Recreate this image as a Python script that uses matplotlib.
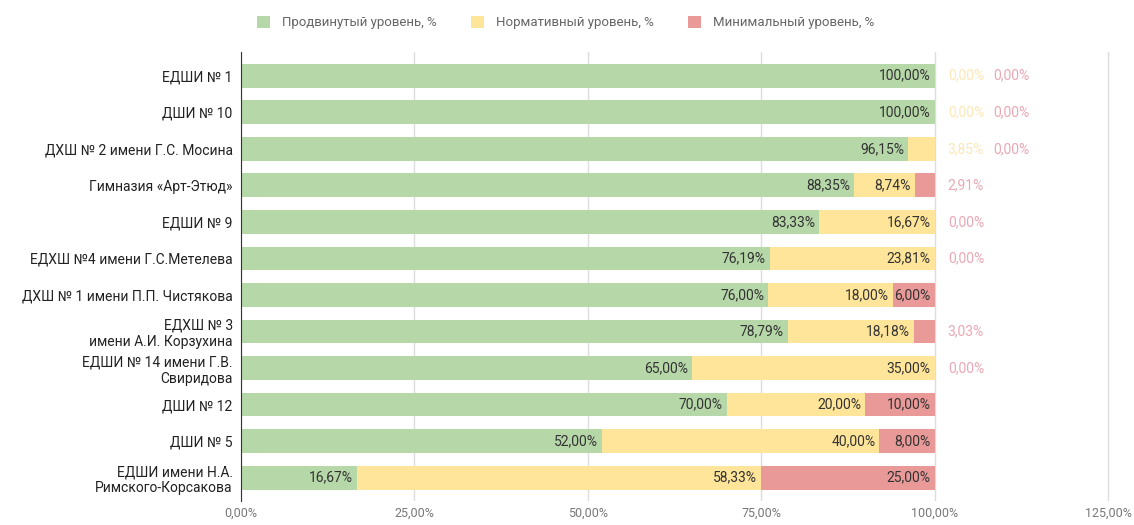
import matplotlib.pyplot as plt
from matplotlib.patches import Patch

plt.rcParams['font.family'] = ['Roboto', 'DejaVu Sans']

schools = ["ЕДШИ № 1", "ДШИ № 10", "ДХШ № 2 имени Г.С. Мосина", "Гимназия «Арт-Этюд»",
           "ЕДШИ № 9", "ЕДХШ №4 имени Г.С.Метелева", "ДХШ № 1 имени П.П. Чистякова",
           "ЕДХШ № 3\nимени А.И. Корзухина", "ЕДШИ № 14 имени Г.В.\nСвиридова",
           "ДШИ № 12", "ДШИ № 5", "ЕДШИ имени Н.А.\nРимского-Корсакова"]
advanced = [100, 100, 96.15, 88.35, 83.33, 76.19, 76.00, 78.79, 65.00, 70.00, 52.00, 16.67]
normative = [0, 0, 3.85, 8.74, 16.67, 23.81, 18.00, 18.18, 35.00, 20.00, 40.00, 58.33]
minimal = [0, 0, 0, 2.91, 0, 0, 6.00, 3.03, 0, 10.00, 8.00, 25.00]
series_names = ["Продвинутый уровень, %", "Нормативный уровень, %", "Минимальный уровень, %"]
xticks = [0, 25, 50, 75, 100, 125]

colors = ["#b6d7a8", "#ffe599", "#ea9999"]
faded = ["#cfe3c5", "#fce8b8", "#eaa8b4"]

def fmt(v):
    return f"{v:.2f}%".replace(".", ",")

fig = plt.figure(figsize=(11.34, 5.25), dpi=100)
ax = fig.add_axes([0.2125, 0.045, 0.777, 0.856])

y = list(range(len(schools)))
left = [0] * len(schools)
outside_count = [0] * len(schools)
for k, vals in enumerate([advanced, normative, minimal]):
    ax.barh(y, vals, left=left, height=0.65, color=colors[k], zorder=2)
    for i, v in enumerate(vals):
        end = left[i] + v
        if v >= 5.5:
            ax.annotate(fmt(v), (end, i), xytext=(-4, 0), textcoords="offset pixels",
                        ha="right", va="center", fontsize=10, color="#333333", zorder=3)
    left = [a + b for a, b in zip(left, vals)]

# small values go outside the bar
for k, vals in enumerate([advanced, normative, minimal]):
    for i, v in enumerate(vals):
        if v < 5.5 and (k > 0):
            if k == 1 and v == 0 and minimal[i] > 0:
                continue
            if k == 1 and v == 0 and advanced[i] < 100 and normative[i] == 0:
                continue
            ax.annotate(fmt(v), (100, i), xytext=(13 + 45 * outside_count[i], 0),
                        textcoords="offset pixels", ha="left", va="center",
                        fontsize=10, color=faded[k])
            outside_count[i] += 1

ax.set_xlim(0, 127)
ax.set_ylim(11.65, -0.65)
ax.set_xticks(xticks)
ax.set_xticklabels([fmt(t) for t in xticks], color="#777777", fontsize=9)
ax.set_yticks(y)
ax.set_yticklabels(schools, fontsize=10, color="#222222")
ax.tick_params(axis="x", length=0, pad=4)
ax.tick_params(axis="y", length=0, pad=6)
ax.grid(axis="x", color="#dddddd", linewidth=1, zorder=0)
for s in ["top", "right", "bottom"]:
    ax.spines[s].set_visible(False)
ax.spines["left"].set_color("#333333")
ax.spines["left"].set_zorder(4)

handles = [Patch(facecolor=c, edgecolor="none") for c in colors]
fig.legend(handles, series_names, loc="center", bbox_to_anchor=(0.4987, 0.957), ncol=3,
           frameon=False, fontsize=9.5, labelcolor="#666666", handlelength=1.0,
           handleheight=1.0, columnspacing=2.6, handletextpad=0.9)

fig.savefig("out.png", dpi=100)
